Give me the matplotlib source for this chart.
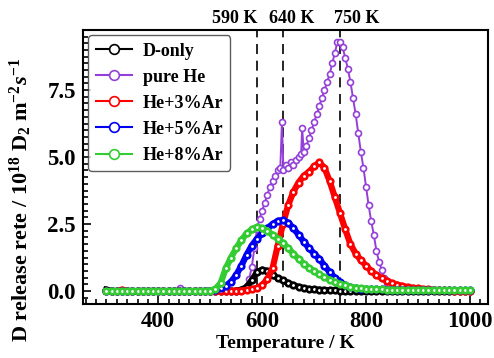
import matplotlib.pyplot as plt
from matplotlib.ticker import MultipleLocator

plt.rcParams['font.family'] = 'Liberation Serif'
plt.rcParams['font.weight'] = 'bold'
plt.rcParams['mathtext.fontset'] = 'custom'
plt.rcParams['mathtext.rm'] = 'Liberation Serif:bold'
plt.rcParams['mathtext.it'] = 'Liberation Serif:bold:italic'
plt.rcParams['mathtext.bf'] = 'Liberation Serif:bold'

# shared temperature grid (K)
T = [300, 310, 320, 330, 340, 350, 360, 370, 380, 390,
     400, 410, 420, 430, 440, 450, 460, 470, 480, 490,
     500, 510, 520, 530, 540, 550, 560, 570, 580, 590,
     600, 610, 620, 630, 640, 650, 660, 670, 680, 690,
     700, 710, 720, 730, 740, 750, 760, 770, 780, 790,
     800, 810, 820, 830, 840, 850, 860, 870, 880, 890,
     900, 910, 920, 930, 940, 950, 960, 970, 980, 990, 1000]

d_only = [0.05, 0, 0, 0, 0, 0, 0, 0, 0, 0,
          0, 0, 0, 0, 0, 0, 0, 0, 0, 0,
          0, 0, 0, 0, 0, 0.02, 0.05, 0.15, 0.4, 0.7,
          0.8, 0.75, 0.6, 0.48, 0.4, 0.3, 0.22, 0.16, 0.11, 0.08,
          0.06, 0.05, 0.04, 0.03, 0.03, 0.02, 0.02, 0.02, 0.01, 0.01,
          0.01, 0.01, 0.01, 0.01, 0, 0, 0, 0, 0, 0,
          0, 0, 0, 0, 0, 0, 0, 0, 0, 0, 0]

he3 = [0, 0, 0, 0.05, 0, 0, 0, 0, 0, 0,
       0, 0, 0, 0, 0, 0, 0, 0, 0, 0,
       0, 0, 0, 0, 0, 0.01, 0.02, 0.04, 0.07, 0.12,
       0.22, 0.45, 0.85, 1.7, 2.5, 3.2, 3.7, 4.05, 4.3, 4.45,
       4.65, 4.8, 4.6, 4.1, 3.5, 2.9, 2.3, 1.75, 1.4, 1.15,
       0.95, 0.75, 0.6, 0.48, 0.38, 0.3, 0.24, 0.19, 0.15, 0.12,
       0.1, 0.08, 0.06, 0.05, 0.04, 0.03, 0.03, 0.02, 0.02, 0.01, 0.01]

he5 = [0, 0, 0, 0, 0, 0, 0, 0, 0, 0,
       0, 0, 0, 0, 0, 0, 0, 0, 0, 0,
       0.02, 0.05, 0.1, 0.2, 0.35, 0.6, 0.95, 1.35, 1.7, 1.95,
       2.15, 2.35, 2.5, 2.62, 2.65, 2.55, 2.35, 2.1, 1.85, 1.6,
       1.4, 1.2, 0.95, 0.7, 0.5, 0.35, 0.22, 0.15, 0.1, 0.08,
       0.07, 0.07, 0.06, 0.06, 0.05, 0.05, 0.05, 0.05, 0.04, 0.04,
       0.04, 0.04, 0.04, 0.04, 0.03, 0.03, 0.03, 0.03, 0.03, 0.03, 0.03]

he8 = [0, 0, 0, 0, 0, 0, 0, 0, 0, 0,
       0, 0, 0, 0, 0, 0, 0, 0, 0, 0,
       0.02, 0.08, 0.3, 0.85, 1.25, 1.6, 1.9, 2.15, 2.3, 2.4,
       2.35, 2.25, 2.1, 1.95, 1.8, 1.6, 1.4, 1.2, 1.02, 0.87,
       0.74, 0.62, 0.52, 0.42, 0.34, 0.27, 0.21, 0.16, 0.13, 0.1,
       0.09, 0.08, 0.07, 0.06, 0.05, 0.05, 0.05, 0.04, 0.04, 0.04,
       0.04, 0.04, 0.03, 0.03, 0.03, 0.03, 0.03, 0.03, 0.03, 0.03, 0.03]

# pure He has its own (denser, noisy) temperature points
T_he = [300, 340, 380, 420, 442, 460, 500, 540, 560, 570,
        575, 580, 585, 590, 595, 600, 605, 610, 615, 620,
        625, 630, 635, 638, 641, 645, 650, 655, 660, 665,
        670, 675, 677, 680, 685, 690, 695, 700, 705, 710,
        715, 720, 725, 730, 735, 740, 745, 750, 755, 760,
        765, 770, 775, 780, 785, 790, 795, 800, 805, 810,
        815, 820, 825, 830, 835, 840, 845, 850, 860, 880,
        920, 960, 1000]
pure_he = [0, 0, 0, 0, 0.12, 0, 0, 0, 0.05, 0.2,
           0.45, 0.9, 1.6, 2.3, 2.7, 3.0, 3.3, 3.6, 3.9, 4.1,
           4.3, 4.5, 4.6, 6.3, 4.5, 4.7, 4.6, 4.8, 4.7, 4.9,
           5.0, 5.1, 6.1, 5.2, 5.4, 5.7, 6.0, 6.3, 6.6, 6.9,
           7.2, 7.5, 7.8, 8.1, 8.5, 8.9, 9.3, 9.3, 9.1, 8.7,
           8.3, 7.8, 7.2, 6.6, 5.9, 5.2, 4.6, 3.9, 3.2, 2.6,
           2.1, 1.5, 1.1, 0.8, 0.5, 0.3, 0.15, 0.06, 0.02, 0,
           0, 0, 0]

peaks = [590, 640, 750]
peak_text_x = [547, 657, 782]

fig = plt.figure(figsize=(4.94, 3.58), dpi=100)
ax = fig.add_axes([0.168, 0.151, 0.82, 0.765])

band = dict(lw=4.5, ms=4.0, mew=1.9, mfc='white')
ax.plot(T, d_only, '-o', color='black', label='D-only', zorder=3, **band)
ax.plot(T_he, pure_he, '-o', color='#9440d8', lw=1.4, ms=4.3, mew=1.2, mfc='white',
        label='pure He', zorder=2)
ax.plot(T, he3, '-o', color='#ff0000', label='He+3%Ar', zorder=4, **band)
ax.plot(T, he5, '-o', color='#0000f0', label='He+5%Ar', zorder=5, **band)
ax.plot(T, he8, '-o', color='#33cc33', label='He+8%Ar', zorder=6, **band)

for p, tx in zip(peaks, peak_text_x):
    ax.axvline(p, color='black', ls=(0, (6, 4)), lw=1.2, zorder=1)
    ax.text(tx, 1.012, f'{p} K', transform=ax.get_xaxis_transform(),
            ha='center', va='bottom', fontsize=13, fontweight='bold')

ax.set_xlim(255, 1035)
ax.set_ylim(-0.48, 9.74)
ax.set_xticks([400, 600, 800, 1000])
ax.set_yticks([0, 2.5, 5.0, 7.5])
ax.xaxis.set_minor_locator(MultipleLocator(20))
ax.yaxis.set_minor_locator(MultipleLocator(0.25))
ax.tick_params(which='both', direction='in', top=False, right=False,
               labelsize=16.5, width=1.2)
ax.tick_params(which='major', length=6, pad=5)
ax.tick_params(which='minor', length=3.5)
for s in ax.spines.values():
    s.set_linewidth(1.5)

ax.set_xlabel('Temperature / K', fontsize=14, fontweight='bold', labelpad=2)
ax.set_ylabel(r'D release rete / 10$^{18}$ D$_2$ m$^{-2}$$s^{-1}$',
              fontsize=16, fontweight='bold')
ax.yaxis.set_label_coords(-0.122, 0.38)

leg = ax.legend(loc='upper left', fontsize=13, frameon=True, fancybox=True,
                edgecolor='#333333', handlelength=2.0, labelspacing=0.5,
                borderpad=0.4, handletextpad=0.6, borderaxespad=0.3)
leg.get_frame().set_linewidth(1.0)
for h in leg.get_lines():
    h.set_linewidth(1.5)
    h.set_markersize(7)
    h.set_markeredgewidth(1.2)

fig.savefig('out.png', dpi=100)
